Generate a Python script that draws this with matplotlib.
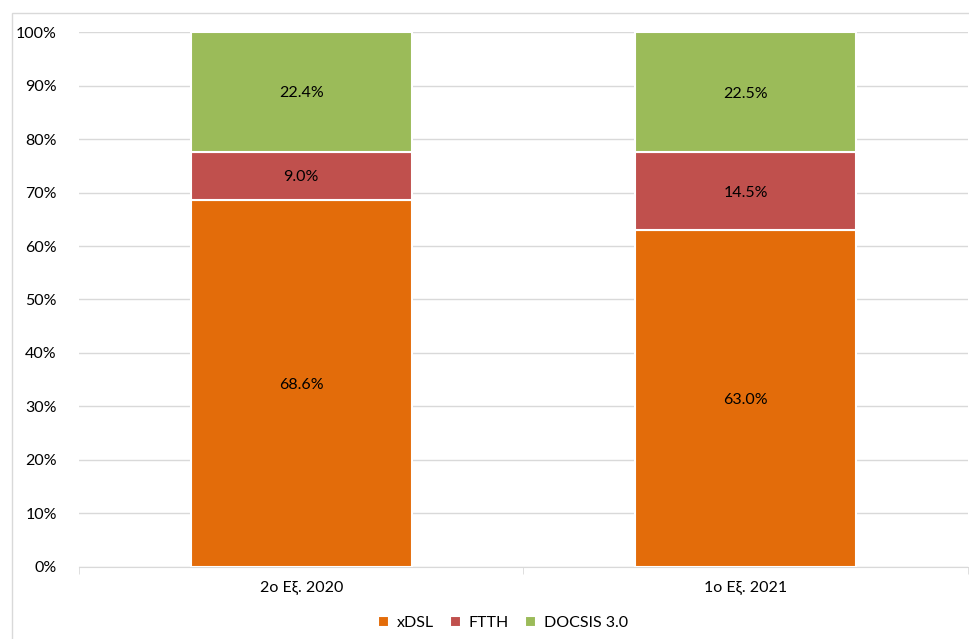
import numpy as np
import matplotlib.pyplot as plt
from matplotlib.patches import Rectangle

plt.rcParams['font.family'] = ['Lato', 'DejaVu Sans']

categories = ["2ο Εξ. 2020", "1ο Εξ. 2021"]
series_names = ["xDSL", "FTTH", "DOCSIS 3.0"]
xdsl = [68.6, 63.0]
ftth = [9.0, 14.5]
docsis = [22.4, 22.5]
colors = ["#E36C0A", "#C0504D", "#9BBB59"]

fig = plt.figure(figsize=(9.7, 6.39), dpi=100)
ax = fig.add_axes([0.0814, 0.1127, 0.9165, 0.8372])

# outer chart border
fig.patches.append(Rectangle((12/970, -0.01), 1.0, 1 - 13/639 + 0.01, transform=fig.transFigure,
                             fill=False, edgecolor="#D9D9D9", linewidth=1))

x = np.arange(len(categories))
bottom = np.zeros(len(categories))
for name, vals, c in zip(series_names, [xdsl, ftth, docsis], colors):
    vals = np.array(vals)
    ax.bar(x, vals, 0.497, bottom=bottom, color=c, edgecolor="white",
           linewidth=1.5, label=name, zorder=3)
    for xi, b, v in zip(x, bottom, vals):
        ax.text(xi, b + v / 2, f"{v:.1f}%", ha="center", va="center_baseline",
                fontsize=11.5, color="black", zorder=4)
    bottom += vals

ax.set_xlim(-0.5, 1.5)
ax.set_ylim(0, 100)
ax.set_yticks(np.arange(0, 101, 10))
ax.set_yticklabels([f"{v}%" for v in range(0, 101, 10)], fontsize=11.5)
ax.set_xticks(x)
ax.set_xticklabels(categories, fontsize=11.5)
ax.tick_params(axis="y", length=0, pad=16)
ax.tick_params(axis="x", length=0, pad=10)
ax.set_xticks([-0.5, 0.5, 1.5], minor=True)
ax.tick_params(axis="x", which="minor", length=5, color="#D9D9D9")
ax.grid(axis="y", color="#D9D9D9", linewidth=1, zorder=0)
for s in ["top", "right", "left"]:
    ax.spines[s].set_visible(False)
ax.spines["bottom"].set_color("#D9D9D9")

ax.legend(loc="center", bbox_to_anchor=(0.477, -0.105), ncol=3, frameon=False,
          fontsize=11.5, handlelength=0.7, handleheight=0.7, columnspacing=1.0,
          handletextpad=0.5)

fig.savefig("out.png", dpi=100)
